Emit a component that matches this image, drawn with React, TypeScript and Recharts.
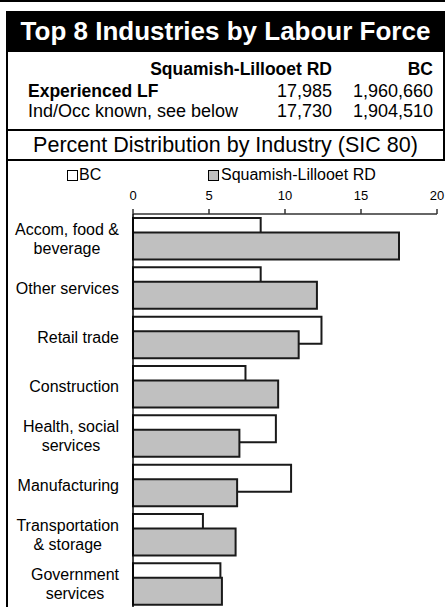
import React from 'react';
import { BarChart, Bar, XAxis, YAxis } from 'recharts';

const title = 'Top 8 Industries by Labour Force';
const subtitle = 'Percent Distribution by Industry (SIC 80)';
const tableHeader = ['Squamish-Lillooet RD', 'BC'];
const tableLabels = ['Experienced LF', 'Ind/Occ known, see below'];
const tableRegion = ['17,985', '17,730'];
const tableBC = ['1,960,660', '1,904,510'];

const seriesNames = ['BC', 'Squamish-Lillooet RD'];
const categories = [
  'Accom, food &\nbeverage',
  'Other services',
  'Retail trade',
  'Construction',
  'Health, social\nservices',
  'Manufacturing',
  'Transportation\n& storage',
  'Government\nservices',
];
const bcValues = [8.4, 8.4, 12.4, 7.4, 9.4, 10.4, 4.6, 5.75];
const regionValues = [17.5, 12.1, 10.9, 9.55, 7.0, 6.85, 6.75, 5.85];
const xTicks = [0, 5, 10, 15, 20];

const data = categories.map((c, i) => ({ name: c, bc: bcValues[i], region: regionValues[i] }));

const FONT = '"Liberation Sans", Arial, Helvetica, sans-serif';

let ctx: CanvasRenderingContext2D | null = null;
function measure(t: string, size: number): number {
  if (!ctx) ctx = document.createElement('canvas').getContext('2d');
  if (!ctx) return t.length * size * 0.5;
  ctx.font = `${size}px "Liberation Sans", Arial`;
  return ctx.measureText(t).width;
}

const CategoryTick = (props: any) => {
  const { x, y, payload } = props;
  const lines = String(payload.value).split('\n');
  const lh = 19;
  const size = 16;
  const maxW = Math.max(...lines.map((l) => measure(l, size)));
  const multi = lines.length > 1;
  const cx = multi ? x - maxW / 2 : x;
  const y0 = y - ((lines.length - 1) * lh) / 2 + 5.7;
  return (
    <text fontFamily={FONT} fontSize={size} fill="#000" textAnchor={multi ? 'middle' : 'end'}>
      {lines.map((l, i) => (
        <tspan key={i} x={cx} y={y0 + i * lh}>
          {l}
        </tspan>
      ))}
    </text>
  );
};

const abs = (s: React.CSSProperties): React.CSSProperties => ({ position: 'absolute', ...s });

export default function App() {
  return (
    <div
      style={abs({
        left: 0,
        top: 0,
        width: 445,
        height: 607,
        overflow: 'hidden',
        background: '#fff',
        fontFamily: FONT,
        color: '#000',
      })}
    >
      {/* top rule */}
      <div style={abs({ left: 0, top: 0, width: 445, height: 2, background: '#000' })} />
      {/* header */}
      <div
        style={abs({
          left: 6,
          top: 11,
          width: 439,
          height: 41,
          background: '#000',
          color: '#fff',
          fontWeight: 'bold',
          fontSize: 26,
          lineHeight: '41px',
          textAlign: 'center',
          whiteSpace: 'nowrap',
        })}
      >
        {title}
      </div>
      {/* frame borders */}
      <div style={abs({ left: 6, top: 11, width: 2, height: 600, background: '#000' })} />
      <div style={abs({ left: 443, top: 52, width: 2, height: 108, background: '#000' })} />
      <div style={abs({ left: 6, top: 129, width: 439, height: 2, background: '#000' })} />
      <div style={abs({ left: 6, top: 159, width: 439, height: 2, background: '#000' })} />

      {/* table */}
      <div style={abs({ left: 60, top: 59, width: 272, height: 20, lineHeight: '20px', fontSize: 17.5, fontWeight: 'bold', textAlign: 'right', whiteSpace: 'nowrap' })}>
        {tableHeader[0]}
      </div>
      <div style={abs({ left: 340, top: 59, width: 93, height: 20, lineHeight: '20px', fontSize: 17.5, fontWeight: 'bold', textAlign: 'right', whiteSpace: 'nowrap' })}>
        {tableHeader[1]}
      </div>
      {tableLabels.map((lab, i) => (
        <React.Fragment key={i}>
          <div
            style={abs({
              left: 28,
              top: 81 + i * 20,
              height: 20,
              lineHeight: '20px',
              fontSize: i === 0 ? 17.5 : 18,
              fontWeight: i === 0 ? 'bold' : 'normal',
              whiteSpace: 'nowrap',
            })}
          >
            {lab}
          </div>
          <div style={abs({ left: 232, top: 81 + i * 20, width: 100, height: 20, lineHeight: '20px', fontSize: 18, textAlign: 'right' })}>
            {tableRegion[i]}
          </div>
          <div style={abs({ left: 333, top: 81 + i * 20, width: 100, height: 20, lineHeight: '20px', fontSize: 18, textAlign: 'right' })}>
            {tableBC[i]}
          </div>
        </React.Fragment>
      ))}

      {/* subtitle */}
      <div style={abs({ left: 6, top: 132, width: 439, height: 26, lineHeight: '26px', fontSize: 21.5, textAlign: 'center', whiteSpace: 'nowrap' })}>
        {subtitle}
      </div>

      {/* legend */}
      <div style={abs({ left: 67, top: 170, width: 9, height: 9, border: '1px solid #000', background: '#fff' })} />
      <div style={abs({ left: 79, top: 165, height: 20, lineHeight: '20px', fontSize: 16, whiteSpace: 'nowrap' })}>{seriesNames[0]}</div>
      <div style={abs({ left: 208, top: 170, width: 9, height: 9, border: '1px solid #000', background: '#c0c0c0' })} />
      <div style={abs({ left: 221, top: 165, height: 20, lineHeight: '20px', fontSize: 16, whiteSpace: 'nowrap' })}>{seriesNames[1]}</div>

      <div style={abs({ left: 0, top: 0 })}>
        <BarChart
          width={445}
          height={620}
          data={data}
          layout="vertical"
          margin={{ top: 184, right: 8, bottom: 11.33, left: 8 }}
          barGap={-12.5}
          barCategoryGap={0}
        >
          <XAxis
            type="number"
            orientation="top"
            domain={[0, 20]}
            ticks={xTicks}
            height={30}
            tickSize={5}
            tickMargin={9}
            interval={0}
            axisLine={{ stroke: '#333', strokeWidth: 1.5 }}
            tickLine={{ stroke: '#333', strokeWidth: 1.5 }}
            tick={{ fontSize: 13, fill: '#000', fontFamily: FONT }}
          />
          <YAxis
            type="category"
            dataKey="name"
            width={125}
            tickSize={0}
            tickMargin={14}
            interval={0}
            axisLine={{ stroke: '#000', strokeWidth: 1.5 }}
            tickLine={false}
            tick={<CategoryTick />}
          />
          <Bar dataKey="bc" name={seriesNames[0]} fill="#ffffff" stroke="#1a1a1a" strokeWidth={2} barSize={27} isAnimationActive={false} />
          <Bar dataKey="region" name={seriesNames[1]} fill="#c0c0c0" stroke="#1a1a1a" strokeWidth={2} barSize={27} isAnimationActive={false} />
        </BarChart>
      </div>
    </div>
  );
}
